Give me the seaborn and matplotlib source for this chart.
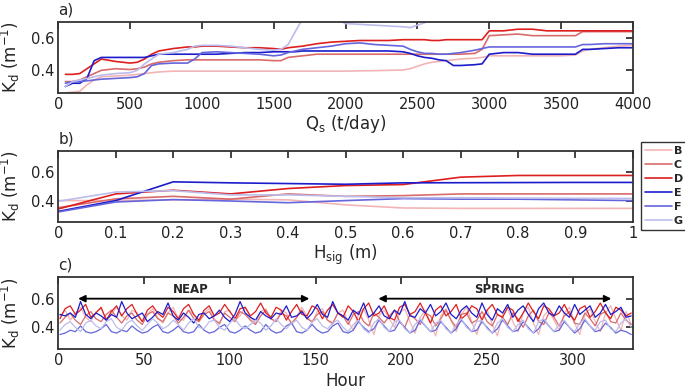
import numpy as np
import pandas as pd
import matplotlib
matplotlib.use("Agg")
import matplotlib.pyplot as plt
import seaborn as sns

SITES = ["B", "C", "D", "E", "F", "G"]
COLORS = {"B": "#f2b4b4", "C": "#d96b6b", "D": "#dd1f1f",
          "E": "#1c1ccc", "F": "#6565dd", "G": "#bcbcec"}

# panel a: Kd vs sediment load
QS = [50, 100, 150, 200, 250, 300, 400, 500, 550, 600, 650, 700, 800, 900, 950,
      1000, 1100, 1200, 1300, 1400, 1500, 1550, 1600, 1650, 1700, 1800, 1900,
      2000, 2100, 2200, 2300, 2400, 2450, 2500, 2550, 2600, 2650, 2700, 2750,
      2800, 2900, 2950, 3000, 3100, 3200, 3300, 3400, 3500, 3600, 3650, 3700,
      3800, 3900, 4000]
KD_QS = {
    "B": [0.26, 0.265, 0.27, 0.31, 0.34, 0.36, 0.365, 0.37, 0.375, 0.38, 0.385, 0.39, 0.395, 0.395,
          0.395, 0.395, 0.395, 0.395, 0.395, 0.395, 0.395, 0.395, 0.395, 0.395, 0.395, 0.395, 0.395,
          0.395, 0.397, 0.398, 0.40, 0.402, 0.41, 0.425, 0.44, 0.45, 0.455, 0.46, 0.465, 0.47, 0.475,
          0.48, 0.49, 0.49, 0.49, 0.49, 0.49, 0.49, 0.495, 0.52, 0.53, 0.54, 0.55, 0.555],
    "C": [0.33, 0.33, 0.34, 0.36, 0.38, 0.40, 0.41, 0.405, 0.41, 0.42, 0.44, 0.45, 0.46, 0.465,
          0.465, 0.465, 0.465, 0.465, 0.465, 0.465, 0.46, 0.46, 0.48, 0.485, 0.49, 0.50, 0.50,
          0.50, 0.50, 0.50, 0.50, 0.50, 0.50, 0.50, 0.50, 0.50, 0.50, 0.50, 0.50, 0.50, 0.505,
          0.53, 0.615, 0.62, 0.625, 0.615, 0.615, 0.615, 0.615, 0.64, 0.64, 0.64, 0.64, 0.64],
    "D": [0.375, 0.375, 0.38, 0.41, 0.44, 0.47, 0.455, 0.445, 0.45, 0.47, 0.50, 0.52, 0.535, 0.545,
          0.545, 0.55, 0.55, 0.545, 0.54, 0.54, 0.535, 0.53, 0.54, 0.545, 0.55, 0.565, 0.575,
          0.58, 0.585, 0.585, 0.585, 0.59, 0.59, 0.59, 0.59, 0.585, 0.585, 0.59, 0.59, 0.59, 0.59,
          0.59, 0.645, 0.645, 0.655, 0.655, 0.645, 0.645, 0.645, 0.645, 0.645, 0.645, 0.645, 0.645],
    "E": [0.30, 0.32, 0.32, 0.35, 0.46, 0.48, 0.48, 0.48, 0.48, 0.48, 0.49, 0.50, 0.50, 0.50,
          0.50, 0.50, 0.50, 0.505, 0.51, 0.51, 0.515, 0.515, 0.515, 0.515, 0.52, 0.52, 0.52,
          0.52, 0.52, 0.52, 0.52, 0.515, 0.505, 0.49, 0.48, 0.475, 0.465, 0.46, 0.43, 0.43, 0.435,
          0.44, 0.50, 0.51, 0.51, 0.50, 0.50, 0.50, 0.50, 0.53, 0.53, 0.535, 0.54, 0.54],
    "F": [0.32, 0.33, 0.33, 0.335, 0.34, 0.345, 0.35, 0.355, 0.36, 0.38, 0.43, 0.44, 0.445, 0.445,
          0.47, 0.51, 0.515, 0.51, 0.505, 0.50, 0.49, 0.495, 0.51, 0.52, 0.53, 0.54, 0.55,
          0.565, 0.57, 0.56, 0.555, 0.55, 0.53, 0.515, 0.505, 0.505, 0.50, 0.50, 0.505, 0.51, 0.525,
          0.535, 0.545, 0.545, 0.545, 0.545, 0.545, 0.545, 0.545, 0.56, 0.56, 0.565, 0.565, 0.565],
    "G": [0.30, 0.33, 0.34, 0.35, 0.36, 0.37, 0.38, 0.385, 0.40, 0.44, 0.47, 0.50, 0.51, 0.53,
          0.55, 0.555, 0.555, 0.55, 0.54, 0.53, 0.525, 0.53, 0.56, 0.64, 0.72, 0.75, 0.73,
          0.69, 0.685, 0.68, 0.675, 0.67, 0.665, 0.68, 0.695, 0.72, 0.76, 0.78, 0.78, 0.78, 0.78,
          0.78, 0.78, 0.78, 0.78, 0.78, 0.78, 0.78, 0.78, 0.78, 0.78, 0.78, 0.78, 0.78],
}

# panel b: Kd vs significant wave height
HSIG = [0.0, 0.1, 0.2, 0.3, 0.4, 0.5, 0.6, 0.7, 0.8, 0.9, 1.0]
KD_HSIG = {
    "B": [0.40, 0.40, 0.405, 0.41, 0.405, 0.37, 0.348, 0.345, 0.345, 0.345, 0.345],
    "C": [0.35, 0.412, 0.43, 0.41, 0.447, 0.43, 0.435, 0.447, 0.447, 0.447, 0.447],
    "D": [0.341, 0.447, 0.473, 0.447, 0.485, 0.506, 0.513, 0.565, 0.577, 0.577, 0.577],
    "E": [0.324, 0.40, 0.532, 0.525, 0.52, 0.515, 0.525, 0.526, 0.527, 0.528, 0.528],
    "F": [0.32, 0.39, 0.407, 0.397, 0.385, 0.40, 0.414, 0.41, 0.41, 0.405, 0.40],
    "G": [0.395, 0.46, 0.47, 0.44, 0.44, 0.43, 0.42, 0.42, 0.418, 0.416, 0.415],
}

# panel c: Kd time series over a spring-neap cycle (3-hourly)
HOURS = list(range(1, 336, 3))
KD_HOUR = {
    "B": [0.48, 0.52, 0.45, 0.50, 0.54, 0.47, 0.44, 0.51, 0.53, 0.46, 0.49, 0.54, 0.48, 0.45,
          0.52, 0.50, 0.44, 0.49, 0.53, 0.47, 0.43, 0.50, 0.54, 0.46, 0.45, 0.52, 0.49, 0.44,
          0.50, 0.53, 0.46, 0.42, 0.51, 0.52, 0.45, 0.48, 0.54, 0.47, 0.43, 0.51, 0.53, 0.46,
          0.44, 0.52, 0.50, 0.42, 0.47, 0.54, 0.48, 0.43, 0.51, 0.53, 0.45, 0.42, 0.50, 0.52,
          0.44, 0.38, 0.49, 0.53, 0.45, 0.35, 0.48, 0.52, 0.46, 0.40, 0.50, 0.53, 0.44, 0.36,
          0.47, 0.52, 0.43, 0.34, 0.48, 0.53, 0.45, 0.37, 0.49, 0.54, 0.44, 0.35, 0.47, 0.52,
          0.42, 0.34, 0.49, 0.53, 0.44, 0.37, 0.50, 0.54, 0.43, 0.35, 0.48, 0.52, 0.45, 0.38,
          0.50, 0.54, 0.43, 0.35, 0.49, 0.53, 0.44, 0.37, 0.50, 0.55, 0.46, 0.38, 0.51, 0.42],
    "C": [0.43, 0.47, 0.50, 0.45, 0.42, 0.48, 0.51, 0.46, 0.44, 0.49, 0.52, 0.47, 0.43, 0.48,
          0.50, 0.45, 0.42, 0.49, 0.51, 0.46, 0.44, 0.50, 0.48, 0.43, 0.47, 0.52, 0.46, 0.44,
          0.49, 0.51, 0.45, 0.43, 0.50, 0.47, 0.44, 0.51, 0.49, 0.45, 0.42, 0.48, 0.52, 0.46,
          0.44, 0.50, 0.48, 0.43, 0.47, 0.52, 0.46, 0.44, 0.49, 0.51, 0.45, 0.43, 0.50, 0.48,
          0.42, 0.49, 0.51, 0.44, 0.41, 0.50, 0.47, 0.43, 0.48, 0.52, 0.44, 0.40, 0.49, 0.46,
          0.42, 0.50, 0.48, 0.41, 0.46, 0.52, 0.45, 0.40, 0.49, 0.50, 0.43, 0.45, 0.51, 0.44,
          0.41, 0.49, 0.47, 0.42, 0.50, 0.46, 0.40, 0.48, 0.52, 0.44, 0.42, 0.50, 0.47, 0.41,
          0.48, 0.51, 0.43, 0.42, 0.50, 0.46, 0.41, 0.49, 0.51, 0.44, 0.43, 0.50, 0.45, 0.42],
    "D": [0.46, 0.53, 0.55, 0.49, 0.52, 0.56, 0.47, 0.50, 0.54, 0.45, 0.51, 0.55, 0.48, 0.53,
          0.56, 0.49, 0.44, 0.52, 0.55, 0.50, 0.47, 0.54, 0.51, 0.46, 0.53, 0.56, 0.49, 0.45,
          0.52, 0.55, 0.48, 0.50, 0.56, 0.51, 0.46, 0.53, 0.54, 0.48, 0.51, 0.57, 0.50, 0.47,
          0.54, 0.52, 0.45, 0.51, 0.56, 0.49, 0.48, 0.55, 0.53, 0.46, 0.52, 0.56, 0.50, 0.47,
          0.55, 0.51, 0.44, 0.53, 0.57, 0.48, 0.50, 0.55, 0.47, 0.45, 0.54, 0.56, 0.49, 0.51,
          0.57, 0.50, 0.43, 0.52, 0.55, 0.48, 0.51, 0.56, 0.46, 0.49, 0.55, 0.53, 0.45, 0.52,
          0.56, 0.49, 0.47, 0.54, 0.52, 0.44, 0.50, 0.57, 0.51, 0.46, 0.55, 0.53, 0.48, 0.50,
          0.56, 0.49, 0.45, 0.53, 0.55, 0.47, 0.51, 0.57, 0.50, 0.46, 0.54, 0.52, 0.48, 0.50],
    "E": [0.49, 0.48, 0.50, 0.47, 0.58, 0.49, 0.46, 0.50, 0.48, 0.45, 0.49, 0.47, 0.58, 0.50,
          0.46, 0.48, 0.50, 0.44, 0.47, 0.51, 0.49, 0.57, 0.48, 0.45, 0.50, 0.47, 0.43, 0.49,
          0.50, 0.46, 0.48, 0.52, 0.47, 0.44, 0.49, 0.58, 0.50, 0.47, 0.45, 0.51, 0.48, 0.46,
          0.50, 0.49, 0.55, 0.47, 0.48, 0.51, 0.46, 0.50, 0.56, 0.49, 0.47, 0.58, 0.50, 0.48,
          0.45, 0.52, 0.49, 0.57, 0.47, 0.50, 0.55, 0.48, 0.46, 0.52, 0.49, 0.58, 0.48, 0.47,
          0.53, 0.50, 0.56, 0.48, 0.51, 0.57, 0.49, 0.46, 0.52, 0.55, 0.50, 0.47, 0.57, 0.49,
          0.45, 0.53, 0.50, 0.56, 0.47, 0.52, 0.55, 0.49, 0.44, 0.53, 0.57, 0.50, 0.48, 0.55,
          0.50, 0.47, 0.56, 0.49, 0.52, 0.55, 0.47, 0.50, 0.56, 0.49, 0.51, 0.54, 0.47, 0.48],
    "F": [0.35, 0.36, 0.38, 0.37, 0.41, 0.37, 0.36, 0.37, 0.39, 0.42, 0.37, 0.36, 0.38, 0.37,
          0.41, 0.38, 0.36, 0.37, 0.40, 0.42, 0.37, 0.36, 0.38, 0.41, 0.37, 0.36, 0.37, 0.42,
          0.38, 0.36, 0.37, 0.40, 0.42, 0.37, 0.36, 0.38, 0.41, 0.38, 0.36, 0.37, 0.42, 0.38,
          0.36, 0.37, 0.41, 0.43, 0.37, 0.36, 0.38, 0.42, 0.38, 0.36, 0.37, 0.41, 0.43, 0.37,
          0.36, 0.38, 0.44, 0.40, 0.37, 0.39, 0.45, 0.41, 0.37, 0.38, 0.44, 0.40, 0.36, 0.38,
          0.45, 0.41, 0.37, 0.38, 0.44, 0.40, 0.36, 0.39, 0.45, 0.41, 0.37, 0.38, 0.44, 0.40,
          0.36, 0.39, 0.45, 0.41, 0.37, 0.38, 0.44, 0.40, 0.36, 0.39, 0.45, 0.41, 0.37, 0.38,
          0.44, 0.40, 0.36, 0.39, 0.45, 0.41, 0.37, 0.38, 0.43, 0.40, 0.36, 0.38, 0.37, 0.35],
    "G": [0.38, 0.42, 0.44, 0.40, 0.37, 0.43, 0.45, 0.41, 0.39, 0.44, 0.46, 0.40, 0.38, 0.43,
          0.45, 0.41, 0.38, 0.42, 0.46, 0.43, 0.39, 0.41, 0.45, 0.42, 0.38, 0.43, 0.46, 0.40,
          0.39, 0.44, 0.45, 0.40, 0.38, 0.43, 0.46, 0.41, 0.39, 0.42, 0.45, 0.43, 0.38, 0.41,
          0.46, 0.42, 0.39, 0.43, 0.45, 0.40, 0.38, 0.44, 0.46, 0.41, 0.39, 0.43, 0.45, 0.40,
          0.37, 0.42, 0.45, 0.39, 0.36, 0.43, 0.46, 0.40, 0.37, 0.44, 0.45, 0.39, 0.36, 0.42,
          0.46, 0.41, 0.37, 0.43, 0.45, 0.39, 0.36, 0.42, 0.46, 0.40, 0.37, 0.44, 0.45, 0.39,
          0.36, 0.43, 0.46, 0.40, 0.37, 0.42, 0.45, 0.39, 0.36, 0.44, 0.46, 0.41, 0.37, 0.42,
          0.45, 0.40, 0.37, 0.43, 0.46, 0.41, 0.38, 0.44, 0.45, 0.39, 0.37, 0.43, 0.46, 0.40],
}


def to_long(xvals, series, xname):
    rows = []
    for site in SITES:
        for x, v in zip(xvals, series[site]):
            rows.append({xname: x, "Kd": v, "site": site})
    return pd.DataFrame(rows)


def style_axis(ax):
    ax.tick_params(direction="in", top=True, right=True, length=5, width=1.2,
                   labelsize=10.5, colors="#222222", pad=3)
    for sp in ax.spines.values():
        sp.set_linewidth(1.3)
        sp.set_color("#333333")
    ax.set_ylabel("K$_\\mathregular{d}$ (m$^{-1}$)", fontsize=12, labelpad=6)


sns.set_style("white")
plt.rcParams["font.family"] = ["DejaVu Sans"]

fig = plt.figure(figsize=(6.85, 3.92), dpi=100)
L, W = 0.085, 0.839
ax_a = fig.add_axes([L, 0.763, W, 0.181])
ax_b = fig.add_axes([L, 0.434, W, 0.181])
ax_c = fig.add_axes([L, 0.110, W, 0.183])

df_a = to_long(QS, KD_QS, "Qs")
sns.lineplot(data=df_a, x="Qs", y="Kd", hue="site", palette=COLORS, hue_order=SITES,
             estimator=None, linewidth=1.2, legend=False, ax=ax_a)
ax_a.set_xlim(0, 4000)
ax_a.set_ylim(0.26, 0.70)
ax_a.set_xticks([0, 500, 1000, 1500, 2000, 2500, 3000, 3500, 4000])
ax_a.set_yticks([0.4, 0.6])
ax_a.set_xlabel("Q$_\\mathregular{s}$ (t/day)", fontsize=12, labelpad=1)
style_axis(ax_a)

df_b = to_long(HSIG, KD_HSIG, "Hsig")
sns.lineplot(data=df_b, x="Hsig", y="Kd", hue="site", palette=COLORS, hue_order=SITES,
             estimator=None, linewidth=1.2, legend=False, ax=ax_b)
ax_b.set_xlim(0, 1)
ax_b.set_ylim(0.25, 0.75)
ax_b.set_xticks([0, 0.1, 0.2, 0.3, 0.4, 0.5, 0.6, 0.7, 0.8, 0.9, 1])
ax_b.set_xticklabels(["0", "0.1", "0.2", "0.3", "0.4", "0.5", "0.6", "0.7", "0.8", "0.9", "1"])
ax_b.set_yticks([0.4, 0.6])
ax_b.set_xlabel("H$_\\mathregular{sig}$ (m)", fontsize=12, labelpad=1)
style_axis(ax_b)

df_c = to_long(HOURS, KD_HOUR, "Hour")
sns.lineplot(data=df_c, x="Hour", y="Kd", hue="site", palette=COLORS, hue_order=SITES,
             estimator=None, linewidth=0.9, legend=False, ax=ax_c)
ax_c.set_xlim(0, 335)
ax_c.set_ylim(0.25, 0.75)
ax_c.set_xticks([0, 50, 100, 150, 200, 250, 300])
ax_c.set_yticks([0.4, 0.6])
ax_c.set_xlabel("Hour", fontsize=12, labelpad=3)
style_axis(ax_c)

arrow = dict(arrowstyle="<|-|>", color="black", lw=1.3, mutation_scale=10)
ax_c.annotate("", xy=(10, 0.6), xytext=(148, 0.6), arrowprops=arrow)
ax_c.annotate("", xy=(185, 0.6), xytext=(324, 0.6), arrowprops=arrow)
ax_c.text(77, 0.665, "NEAP", ha="center", va="center", fontsize=8.5, fontweight="bold")
ax_c.text(257, 0.665, "SPRING", ha="center", va="center", fontsize=8.5, fontweight="bold")

for ax, lab in [(ax_a, "a)"), (ax_b, "b)"), (ax_c, "c)")]:
    ax.text(0.0, 1.06, lab, transform=ax.transAxes, fontsize=11, ha="left", va="bottom")

handles = [plt.Line2D([], [], color=COLORS[s], lw=1.2) for s in SITES]
leg = fig.legend(handles, SITES, loc="upper left", bbox_to_anchor=(0.936, 0.638),
                 frameon=True, fancybox=False, handlelength=2.4, handletextpad=0.2,
                 labelspacing=0.36, borderpad=0.35, borderaxespad=0.0,
                 prop={"weight": "bold", "size": 8})
leg.get_frame().set_edgecolor("black")
leg.get_frame().set_linewidth(1.0)

fig.savefig("out.png", dpi=100)
